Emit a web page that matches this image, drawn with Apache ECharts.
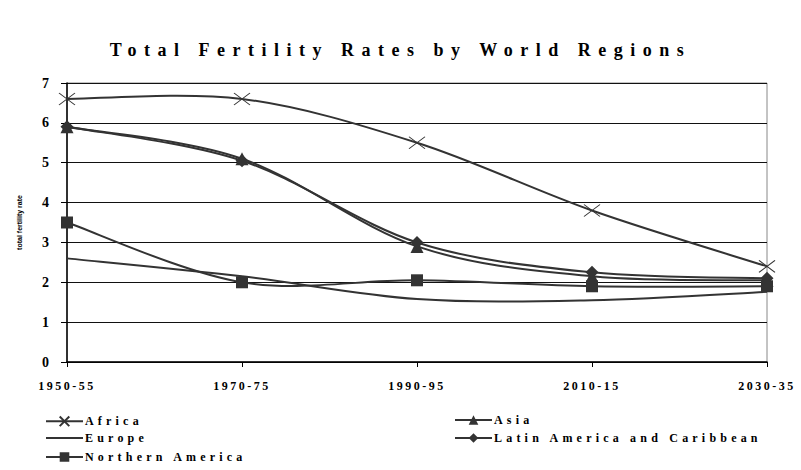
<!DOCTYPE html>
<html>
<head>
<meta charset="utf-8">
<script src="https://cdn.jsdelivr.net/npm/echarts@6/dist/echarts.min.js"></script>
<style>
html,body{margin:0;padding:0;background:#fff;}
#chart{width:801px;height:470px;}
</style>
</head>
<body>
<div id="chart"></div>
<script>
var categories = ['1950-55', '1970-75', '1990-95', '2010-15', '2030-35'];
var africa = [6.6, 6.6, 5.5, 3.8, 2.4];
var asia = [5.9, 5.1, 2.9, 2.15, 2.05];
var europe = [2.6, 2.15, 1.58, 1.55, 1.76];
var latinAmerica = [5.9, 5.05, 3.0, 2.25, 2.1];
var northernAmerica = [3.5, 2.0, 2.05, 1.9, 1.9];
var yTicks = [0, 1, 2, 3, 4, 5, 6, 7];

var titleText = 'Total Fertility Rates by World Regions';
var serif = "'Liberation Serif', 'Times New Roman', serif";
var ink = '#333333';
var crossPath = 'path://M0,0 L16,12 M16,0 L0,12';

function pairs(arr) { return arr.map(function (v, i) { return [i, v]; }); }

// marker series (symbols only; curve drawn by the custom series below)
function markerSeries(name, data, symbol, size, itemStyle) {
  return {
    name: name, type: 'line', data: pairs(data),
    symbol: symbol, symbolSize: size, showSymbol: symbol !== 'line',
    lineStyle: { opacity: 0 },
    itemStyle: itemStyle || { color: ink },
    emphasis: { disabled: true },
    z: 4
  };
}

// smoothed curve through the data points (Catmull-Rom style, like spreadsheet smoothing)
function curveSeries(data) {
  return {
    type: 'custom', data: pairs(data), encode: { x: 0, y: 1 }, z: 3, silent: true,
    renderItem: function (params, api) {
      var i = params.dataIndexInside, n = params.dataInsideLength;
      if (i >= n - 1) return { type: 'group', children: [] };
      function pt(j) {
        j = Math.max(0, Math.min(n - 1, j));
        return api.coord([api.value(0, j), api.value(1, j)]);
      }
      var p0 = pt(i - 1), p1 = pt(i), p2 = pt(i + 1), p3 = pt(i + 2);
      return {
        type: 'bezierCurve',
        shape: {
          x1: p1[0], y1: p1[1], x2: p2[0], y2: p2[1],
          cpx1: p1[0] + (p2[0] - p0[0]) / 6, cpy1: p1[1] + (p2[1] - p0[1]) / 6,
          cpx2: p2[0] - (p3[0] - p1[0]) / 6, cpy2: p2[1] - (p3[1] - p1[1]) / 6
        },
        style: { stroke: ink, lineWidth: 2, fill: null }
      };
    }
  };
}

function legendItem(name, left, top) {
  return {
    data: [name], left: left, top: top, padding: 0,
    itemWidth: 37, itemHeight: 12, itemGap: 0,
    selectedMode: false,
    lineStyle: { opacity: 1, width: 2, color: ink },
    textStyle: { fontFamily: serif, fontSize: 12, fontWeight: 'bold', color: '#000', padding: [0, 0, 0, -3] }
  };
}

var chart = echarts.init(document.getElementById('chart'), null, { renderer: 'svg' });
chart.setOption({
  animation: false,
  backgroundColor: '#ffffff',
  title: {
    text: titleText, left: 'center', top: 36,
    textStyle: { fontFamily: serif, fontSize: 18, fontWeight: 'bold', color: '#000' }
  },
  grid: { left: 67, right: 34, top: 83, bottom: 108, show: true, borderColor: '#888', borderWidth: 1 },
  legend: [
    legendItem('Africa', 45, 414),
    legendItem('Europe', 45, 432),
    legendItem('Northern America', 45, 451),
    legendItem('Asia', 454, 414),
    legendItem('Latin America and Caribbean', 454, 432)
  ],
  xAxis: {
    type: 'category', data: categories, boundaryGap: false,
    axisLine: { lineStyle: { color: '#000', width: 1.5 } },
    axisTick: { show: true, length: 5, alignWithLabel: true, lineStyle: { color: '#000' } },
    axisLabel: { fontFamily: serif, fontSize: 12, fontWeight: 'bold', color: '#000', margin: 18 },
    splitLine: { show: false }
  },
  yAxis: {
    type: 'value', min: 0, max: 7, interval: 1,
    name: 'total fertility rate', nameLocation: 'middle', nameGap: 44, nameRotate: 90,
    nameTextStyle: { fontFamily: "'Liberation Sans', Arial, sans-serif", fontSize: 7, fontWeight: 'bold', color: '#000' },
    axisLine: { show: true, lineStyle: { color: '#000', width: 1.5 } },
    axisTick: { show: true, length: 6, lineStyle: { color: '#000' } },
    axisLabel: { fontFamily: serif, fontSize: 14, fontWeight: 'bold', color: '#000', margin: 18,
      formatter: function (v) { return yTicks.indexOf(v) >= 0 ? String(v) : ''; } },
    splitLine: { show: true, lineStyle: { color: '#111', width: 1 } }
  },
  series: [
    markerSeries('Africa', africa, crossPath, [16, 12], { color: 'none', borderColor: ink, borderWidth: 1 }),
    markerSeries('Asia', asia, 'triangle', 13),
    markerSeries('Europe', europe, 'line', 0),
    markerSeries('Latin America and Caribbean', latinAmerica, 'diamond', 13),
    markerSeries('Northern America', northernAmerica, 'rect', 12),
    curveSeries(africa),
    curveSeries(asia),
    curveSeries(europe),
    curveSeries(latinAmerica),
    curveSeries(northernAmerica)
  ]
});

function spaceText() {
  var texts = document.querySelectorAll('#chart text');
  var legendNames = ['Africa', 'Europe', 'Northern America', 'Asia', 'Latin America and Caribbean'];
  texts.forEach(function (t) {
    var s = t.textContent;
    if (s === titleText) t.style.letterSpacing = '7.5px';
    else if (categories.indexOf(s) >= 0) t.style.letterSpacing = '2.5px';
    else if (legendNames.indexOf(s) >= 0) t.style.letterSpacing = '4.2px';
  });
}
chart.on('finished', spaceText);
setTimeout(spaceText, 50);
</script>
</body>
</html>
